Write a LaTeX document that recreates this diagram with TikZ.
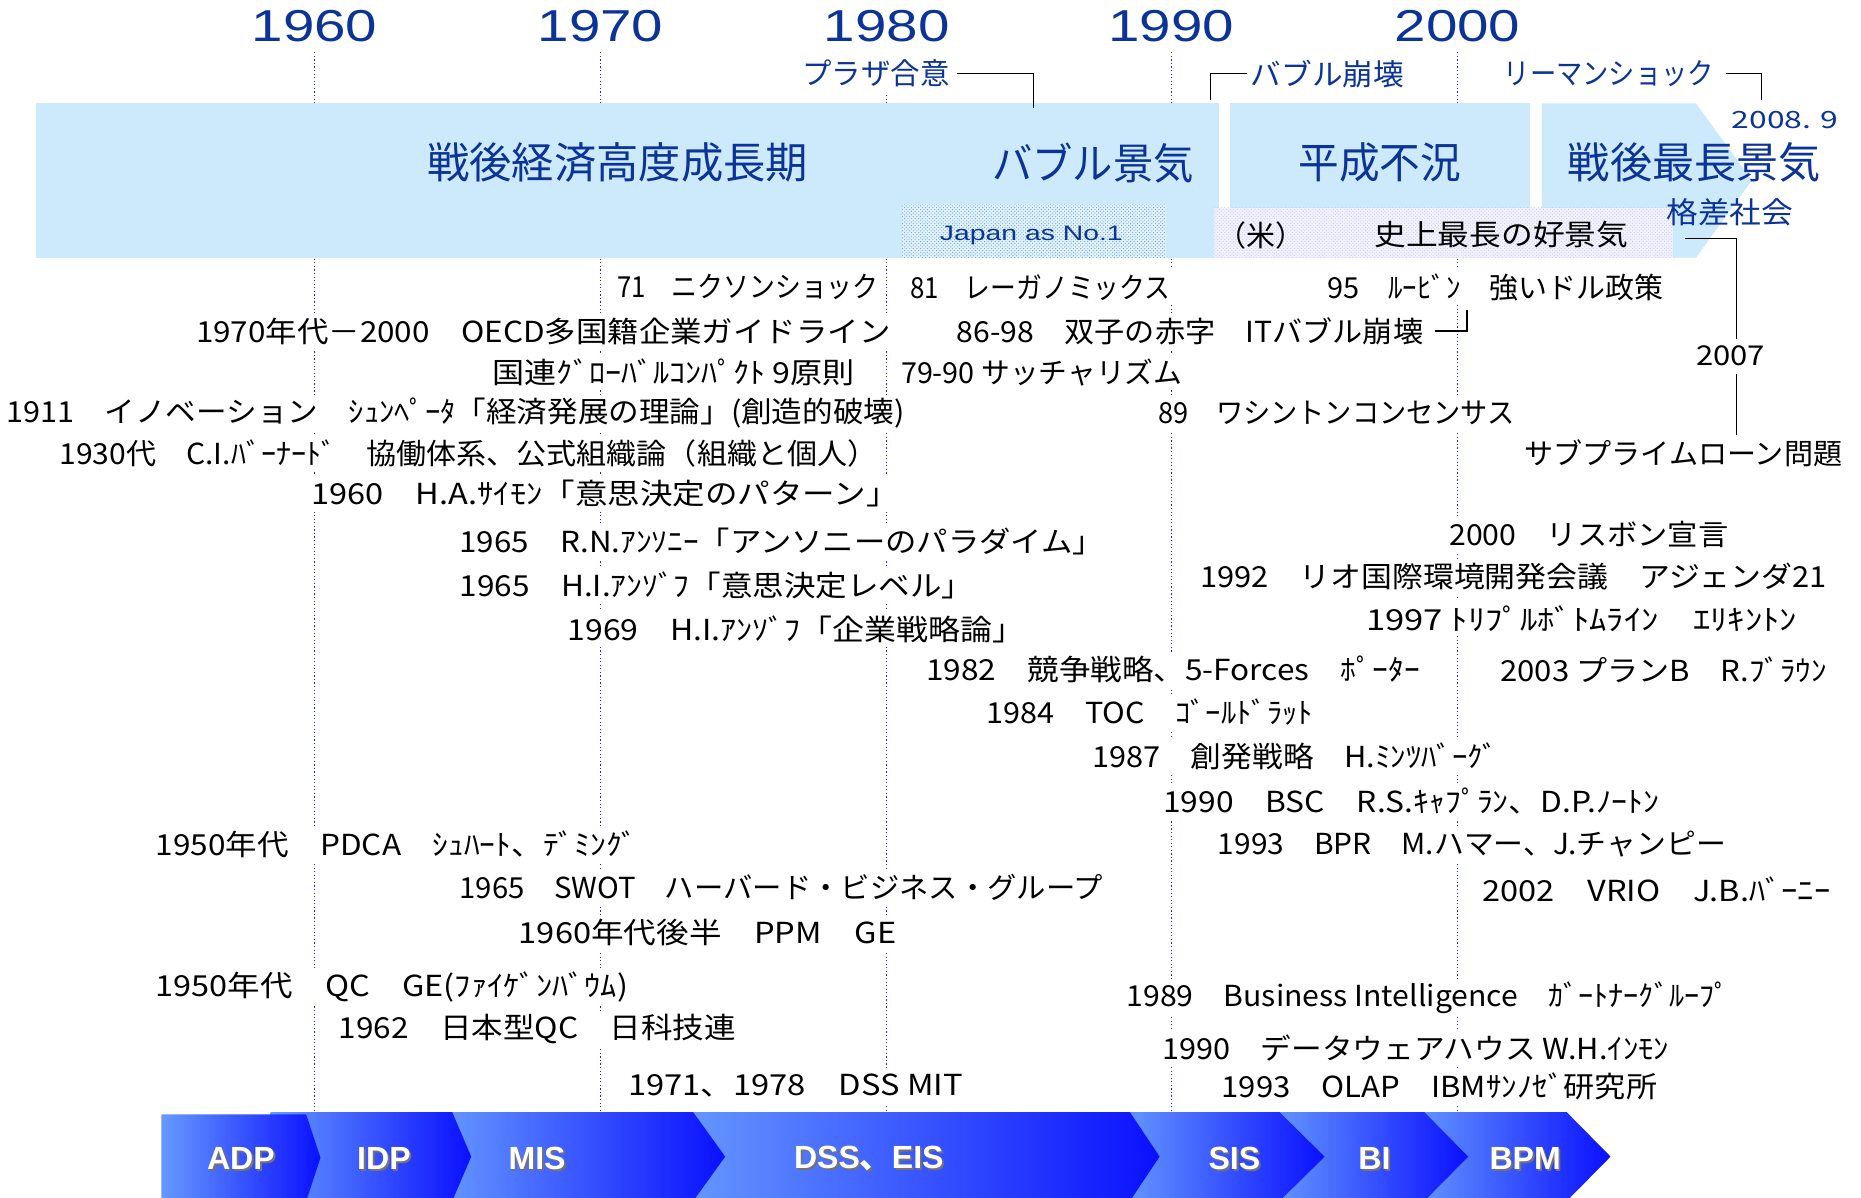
\documentclass[tikz,border=0pt]{standalone}
\usepackage{fontspec}
\usepackage{graphicx}
\setmainfont{Noto Sans CJK JP}
\newfontfamily\ar{Liberation Sans}
\newfontfamily\jp{Noto Sans CJK JP}
\usetikzlibrary{patterns}
\definecolor{dblue}{RGB}{12,52,152}
\definecolor{bandc}{RGB}{204,234,252}
\definecolor{vline}{RGB}{30,30,255}
\definecolor{cl}{RGB}{102,153,255}
\definecolor{cr}{RGB}{10,16,255}
\definecolor{jbase}{RGB}{228,242,252}
\definecolor{jdot}{RGB}{95,165,220}
\definecolor{kbase}{RGB}{242,242,253}
\definecolor{kdot}{RGB}{200,200,242}
\newcommand{\tl}[5]{\node[txt] (#1) at ({#2-3},#4) {\resizebox{#3pt}{\height}{#5}};}
\begin{document}
\begin{tikzpicture}[x=1pt,y=-1pt,
 txt/.style={anchor=west,fill=white,inner xsep=3pt,inner ysep=0pt,minimum height=30pt,text=black,font=\fontsize{24.4}{28}\selectfont},
 yr/.style={inner sep=0pt,text=dblue,font=\ar\fontsize{37.7}{40}\selectfont},
 lbl/.style={inner xsep=1pt,inner ysep=0pt,text=dblue,font=\fontsize{25}{28}\selectfont},
 big/.style={inner sep=0pt,text=dblue,font=\fontsize{36}{40}\selectfont},
 vl/.style={vline,line width=0.9pt,dash pattern=on 1pt off 2pt},
 conn/.style={black,line width=1.1pt},
 chv/.style={text=white,font=\ar\bfseries\fontsize{27}{30}\selectfont,inner sep=0pt},
 chs/.style={text=black!55,font=\ar\bfseries\fontsize{27}{30}\selectfont,inner sep=0pt}]
\useasboundingbox (0,0) rectangle (1568,1009);
\fill[white] (0,0) rectangle (1568,1009);
% year labels
\node[yr] (y60) at (265,22) {\resizebox{106pt}{\height}{1960}};
\node[yr] (y70) at (506,22) {\resizebox{106pt}{\height}{1970}};
\node[yr] (y80) at (747,22) {\resizebox{106pt}{\height}{1980}};
\node[yr] (y90) at (987,22) {\resizebox{106pt}{\height}{1990}};
\node[yr] (y00) at (1228,22) {\resizebox{106pt}{\height}{2000}};
% dotted year lines
\foreach \x in {265,506,747,987,1228} \draw[vl] (\x,44) -- (\x,937);
% band
\fill[bandc] (30,87) rectangle (1027,217);
\fill[bandc] (1036,87) rectangle (1289,217);
\fill[bandc] (1299,87) -- (1429,87) -- (1476,152) -- (1429,217) -- (1299,217) -- cycle;
\fill[jbase] (760,172) rectangle (982,217);
\fill[pattern=crosshatch dots,pattern color=jdot] (760,172) rectangle (982,217);
\fill[kbase] (1023,175) rectangle (1410,217);
\fill[pattern=crosshatch dots,pattern color=kdot] (1023,175) rectangle (1410,217);
% band labels
\node[big] (b1) at (520.5,137) {\resizebox{321pt}{\height}{戦後経済高度成長期}};
\node[big] (b2) at (921,137) {\resizebox{170pt}{\height}{バブル景気}};
\node[big] (b3) at (1162.5,137) {\resizebox{137pt}{\height}{平成不況}};
\node[big] (b4) at (1427.5,137) {\resizebox{213pt}{\height}{戦後最長景気}};
\node[inner sep=0pt,text=dblue,font=\ar\fontsize{17.6}{20}\selectfont] (jp1) at (869,198) {\resizebox{154pt}{\height}{Japan as No.1}};
\node[inner sep=0pt,text=black,font=\fontsize{24.4}{28}\selectfont] (kome) at (1062.5,198) {（米）};
\node[inner sep=0pt,text=black,font=\fontsize{24.4}{28}\selectfont] (shijo) at (1265,198) {\resizebox{214pt}{\height}{史上最長の好景気}};
\node[lbl] (kaku) at (1457.5,179) {\resizebox{107pt}{\height}{格差社会}};
% top labels
\node[lbl,fill=white,minimum height=36pt] (plaza) at (738,62) {\resizebox{124pt}{\height}{プラザ合意}};
\node[lbl] (bh) at (1118.5,62) {\resizebox{129pt}{\height}{バブル崩壊}};
\node[lbl] (lm) at (1355.5,62) {\resizebox{177pt}{\height}{リーマンショック}};
\node[lbl,font=\fontsize{20}{22}\selectfont] (d2008) at (1504,101) {\resizebox{90pt}{\height}{2008. 9}};
\coordinate (pz) at (871,91);
\coordinate (bh1) at (1020,84);
\coordinate (lm1) at (1484,84);
\draw[conn] ([xshift=5pt]plaza.east) -| (pz);
\draw[conn] (bh1) |- ([xshift=-2pt]bh.west);
\draw[conn] ([xshift=9pt]lm.east) -| (lm1);
% body texts
\tl{t71}{520}{220}{242}{71　ニクソンショック}
\tl{t81}{767}{219}{242}{81　レーガノミックス}
\tl{t95}{1118}{283}{242}{95　ﾙｰﾋﾞﾝ　強いドル政策}
\tl{t1970}{165}{585}{279}{1970年代－2000　OECD多国籍企業ガイドライン}
\tl{t86}{806}{393}{279}{86-98　双子の赤字　ITバブル崩壊}
\tl{tun}{415}{305}{314}{国連ｸﾞﾛｰﾊﾞﾙｺﾝﾊﾟｸﾄ 9原則}
\tl{t79}{759}{237}{314}{79-90 サッチャリズム}
\tl{t1911}{5}{757}{348}{1911　イノベーション　ｼｭﾝﾍﾟｰﾀ「経済発展の理論」(創造的破壊)}
\tl{t89}{976}{300}{348}{89　ワシントンコンセンサス}
\tl{t1930}{50}{689}{382}{1930代　C.I.ﾊﾞｰﾅｰﾄﾞ　協働体系、公式組織論（組織と個人）}
\tl{tsub}{1284}{268}{382}{サブプライムローン問題}
\tl{t1960}{262}{495}{416}{1960　H.A.ｻｲﾓﾝ「意思決定のパターン」}
\tl{t2000}{1221}{235}{450}{2000　リスボン宣言}
\tl{tRN}{387}{543}{456}{1965　R.N.ｱﾝｿﾆｰ「アンソニーのパラダイム」}
\tl{t1992}{1011}{528}{486}{1992　リオ国際環境開発会議　アジェンダ21}
\tl{tHI}{387}{433}{493}{1965　H.I.ｱﾝｿﾞﾌ「意思決定レベル」}
\tl{t1997}{1151}{363}{521}{1997 ﾄﾘﾌﾟﾙﾎﾞﾄﾑﾗｲﾝ　ｴﾘｷﾝﾄﾝ}
\tl{t1969}{478}{385}{530}{1969　H.I.ｱﾝｿﾞﾌ「企業戦略論」}
\tl{t2003}{1264}{275}{564}{2003 プランB　R.ﾌﾞﾗｳﾝ}
\tl{t1982}{780}{416}{564}{1982　競争戦略、5-Forces　ﾎﾟｰﾀｰ}
\tl{t1984}{831}{275}{600}{1984　TOC　ｺﾞｰﾙﾄﾞﾗｯﾄ}
\tl{t1987}{920}{342}{637}{1987　創発戦略　H.ﾐﾝﾂﾊﾞｰｸﾞ}
\tl{t1990b}{980}{418}{675}{1990　BSC　R.S.ｷｬﾌﾟﾗﾝ、D.P.ﾉｰﾄﾝ}
\tl{t1950p}{131}{406}{711}{1950年代　PDCA　ｼｭﾊｰﾄ、ﾃﾞﾐﾝｸﾞ}
\tl{t1993b}{1026}{428}{711}{1993　BPR　M.ハマー、J.チャンピー}
\tl{t1965s}{387}{542}{748}{1965　SWOT　ハーバード・ビジネス・グループ}
\tl{t2002}{1249}{293}{749}{2002　VRIO　J.B.ﾊﾞｰﾆｰ}
\tl{t1960l}{437}{318}{786}{1960年代後半　PPM　GE}
\tl{t1950q}{131}{398}{832}{1950年代　QC　GE(ﾌｧｲｹﾞﾝﾊﾞｳﾑ)}
\tl{t1989}{949}{508}{841}{1989　Business Intelligence　ｶﾞｰﾄﾅｰｸﾞﾙｰﾌﾟ}
\tl{t1962}{285}{335}{867}{1962　日本型QC　日科技連}
\tl{t1990d}{979}{427}{883}{1990　データウェアハウス W.H.ｲﾝﾓﾝ}
\tl{t1971}{529}{282}{915}{1971、1978　DSS MIT}
\tl{t1993o}{1029}{367}{915}{1993　OLAP　IBMｻﾝﾉｾﾞ研究所}
% 2007 and brackets
\node[fill=white,inner xsep=2pt,inner ysep=0pt,minimum height=29pt,font=\fontsize{23}{26}\selectfont] (y2007) at (1458,300) {\resizebox{58pt}{\height}{2007}};
\coordinate (kb) at (1420,201);
\draw[conn] (kb) -| ([xshift=5pt]y2007.north);
\draw[conn] ([xshift=5pt]y2007.south) -- ([xshift=5pt]y2007.south |- tsub.north);
\coordinate (itb) at (1236,261);
\draw[conn] ([xshift=7pt]t86.east) -| (itb);
% chevrons
\shade[left color=cl,right color=cr] (1190,937) -- (1320,937) -- (1357,974.5) -- (1320,1012) -- (1190,1012) -- cycle;
\shade[left color=cl,right color=cr] (1070,937) -- (1200,937) -- (1237,974.5) -- (1200,1012) -- (1070,1012) -- cycle;
\shade[left color=cl,right color=cr] (945,937) -- (1078,937) -- (1116,974.5) -- (1078,1012) -- (945,1012) -- cycle;
\shade[left color=cl,right color=cr] (575,937) -- (952,937) -- (977,974.5) -- (952,1012) -- (575,1012) -- cycle;
\shade[left color=cl,right color=cr] (370,937) -- (584,937) -- (611,974.5) -- (584,1012) -- (370,1012) -- cycle;
\shade[left color=cl,right color=cr] (228,937) -- (381,937) -- (397,974.5) -- (381,1012) -- (228,1012) -- cycle;
\shade[left color=cl,right color=cr] (136,939) -- (258,939) -- (270,975.5) -- (258,1012) -- (136,1012) -- cycle;
\foreach \n/\x/\t in {adp/203/ADP,idp/323.5/IDP,mis/452.5/MIS,dss/732/{DSS{\jp 、}EIS},sis/1040/SIS,bi/1158/BI,bpm/1285/BPM}{
  \node[chs] (s\n) at (\x+1.6,977.6) {\t};
  \node[chv] (l\n) at (\x,976) {\t};
}
\end{tikzpicture}
\end{document}
